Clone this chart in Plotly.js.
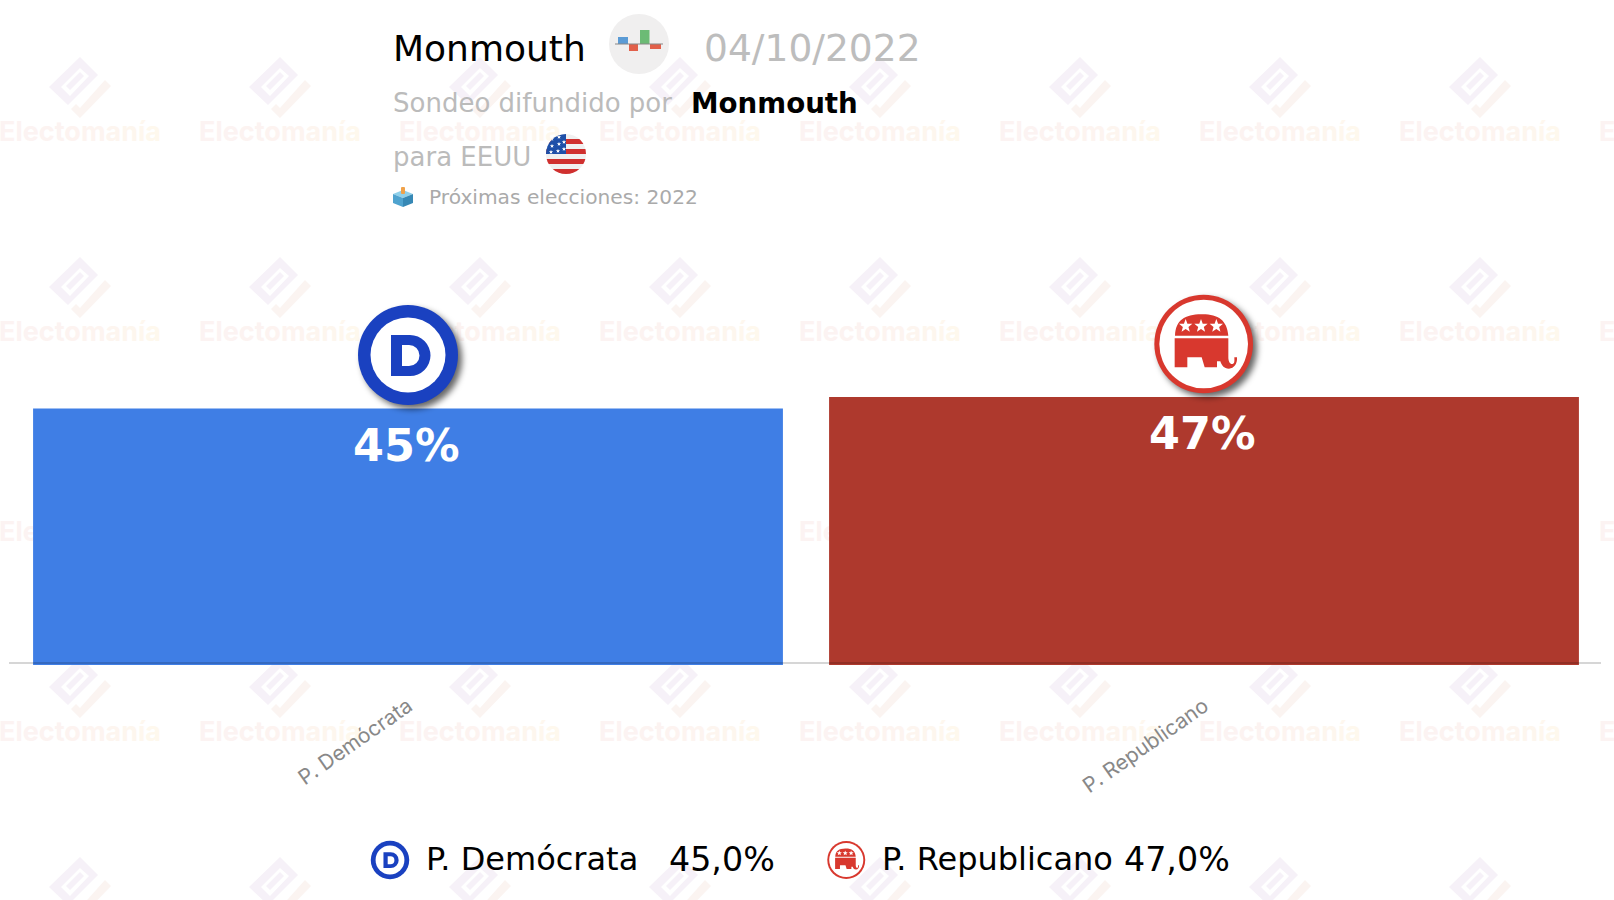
<!DOCTYPE html>
<html><head><meta charset="utf-8">
<script src="https://cdn.plot.ly/plotly-3.0.1.min.js"></script>
<style>html,body{margin:0;padding:0;background:#fff;overflow:hidden}#chart{width:1614px;height:900px}</style>
</head><body><div id="chart"></div>
<script>
const categories = ['P. Demócrata', 'P. Republicano'];
const values = [45, 47];
const legendValues = ['45,0%', '47,0%'];
const barColors = ['#3f7ee5', '#ae392d'];
const pollster = 'Monmouth';
const pollDate = '04/10/2022';
const subtitleText = 'Sondeo difundido por';
const regionText = 'para EEUU';
const nextElection = 'Próximas elecciones: 2022';

const W = 1614, H = 900, L = 10, R = 12, T = 0, B = 235;
const plotW = W - L - R, plotH = H - T - B;
const px = v => (v - L) / plotW;
const py = v => 1 - (v - T) / plotH;
const uri = s => 'data:image/svg+xml;base64,' + btoa(s);

function poly(points, ox, oy) {
  return 'M' + points.map(p => px(p[0] + ox) + ',' + py(p[1] + oy)).join('L') + 'Z';
}
const markOuter = [[80,57],[98,75],[68,105],[49,87]];
const markHole = [[61,87],[80,68],[89,76],[70,96]];
const markBar = [[66,86],[80,72],[84,76],[70,90]];
const markArm = [[105,80],[111,86],[80,118],[71,109],[76,104],[80,108]];
const wmLetters = 'Electomanía'.split('');
const wmColors = ['#fcf3f2','#fcf3f2','#fcf3f2','#fcf3f1','#fcf3f1','#fdf3f0','#fdf4f0','#fdf5ef','#fdf6ee','#fef7ee','#fef8ed'];
const wmText = '<b>' + wmLetters.map((c,i) => `<span style="color:${wmColors[i]}">${c}</span>`).join('') + '</b>';

const shapes = [];
for (let c = 0; c < 9; c++) {
  for (let r = 0; r < 5; r++) {
    const ox = c * 200, oy = r * 200;
    shapes.push({type:'path', layer:'below', xref:'paper', yref:'paper',
      path: poly(markOuter,ox,oy)+poly(markHole,ox,oy)+poly(markBar,ox,oy), fillcolor:'#f6f1f8', line:{width:0}});
    shapes.push({type:'path', layer:'below', xref:'paper', yref:'paper',
      path: poly(markArm,ox,oy), fillcolor:'#fbf4f1', line:{width:0}});
    if (r < 4) shapes.push({type:'rect', layer:'below', xref:'paper', yref:'paper',
      x0:px(ox-1), x1:px(ox+161), y0:py(oy+145), y1:py(oy+115),
      fillcolor:'rgba(0,0,0,0)', line:{width:0},
      label:{text:wmText, textposition:'middle center', font:{family:'Inter', size:27, color:'#fcf3f1'}}});
  }
}
// baseline over the bars
shapes.push({type:'line', layer:'above', xref:'paper', yref:'paper', x0:px(9), x1:px(1601), y0:py(663), y1:py(663),
  line:{color:'rgba(0,0,0,0.16)', width:2}});

const shadow = '<filter id="s" x="-30%" y="-30%" width="160%" height="160%"><feGaussianBlur stdDeviation="3"/></filter>';
function dIcon(sh) {
  return uri(`<svg xmlns="http://www.w3.org/2000/svg" width="130" height="130" viewBox="0 0 130 130">${sh?shadow+'<circle cx="69" cy="69" r="50" fill="#000" fill-opacity="0.6" filter="url(#s)"/>':''}
  <circle cx="65" cy="65" r="50" fill="#1a41c0"/><circle cx="65" cy="65" r="37.5" fill="#fff"/>
  <path fill="#1a41c0" fill-rule="evenodd" d="M48 45H67A20.5 20.5 0 0 1 67 86H48ZM59 55H66A10.5 10.5 0 0 1 66 76H59Z"/></svg>`);
}
function star(cx, cy, r) {
  let d = '';
  for (let i = 0; i < 10; i++) {
    const a = -Math.PI/2 + i*Math.PI/5, q = i%2 ? r*0.42 : r;
    d += (i?'L':'M') + (cx+q*Math.cos(a)).toFixed(1) + ' ' + (cy+q*Math.sin(a)).toFixed(1);
  }
  return d + 'Z';
}
function rIcon(sh) {
  return uri(`<svg xmlns="http://www.w3.org/2000/svg" width="130" height="130" viewBox="115 27 390 390">${sh?shadow.replace('stdDeviation="3"','stdDeviation="9"')+'<circle cx="324" cy="234" r="148" fill="#000" fill-opacity="0.6" filter="url(#s)"/>':''}
  <circle cx="312" cy="222" r="148" fill="#d8382e"/><circle cx="312" cy="222" r="133" fill="#fff"/>
  <path fill="#d8382e" d="M226 197C228 150 255 134 305 133C355 132 382 150 386 197Z"/>
  <path fill="#d8382e" d="M225 205H386V262C386 276 392 284 399 282C406 280 404 270 404 262L412 262C414 280 403 296 388 296C372 296 366 286 362 274H352V292H315L306 262H263V292H225Z"/>
  <path fill="#fff" d="${star(258,168,21)}${star(304,168,21)}${star(350,168,21)}"/></svg>`);
}
const flag = uri(`<svg xmlns="http://www.w3.org/2000/svg" width="40" height="40" viewBox="0 0 40 40"><defs><clipPath id="c"><circle cx="20" cy="20" r="20"/></clipPath></defs>
<g clip-path="url(#c)"><rect width="40" height="40" fill="#f0f0f0"/>
<rect y="5" width="40" height="5" fill="#d0302f"/><rect y="15" width="40" height="5" fill="#d0302f"/><rect y="25" width="40" height="5" fill="#d0302f"/><rect y="35" width="40" height="5" fill="#d0302f"/>
<rect width="20" height="20" fill="#1e4fa8"/>
<path fill="#fff" d="${star(6,5,2.2)}${star(13,3,2.2)}${star(18,8,2.2)}${star(6,12,2.2)}${star(13,10,2.2)}${star(5,18,2.2)}${star(12,17,2.2)}${star(18,15,2.2)}"/></g></svg>`);
const barsIcon = uri(`<svg xmlns="http://www.w3.org/2000/svg" width="60" height="60" viewBox="0 0 60 60"><circle cx="30" cy="30" r="30" fill="#f0efef"/>
<rect x="9" y="23" width="10" height="7" fill="#5b9bd5"/><rect x="20" y="30" width="9" height="7" fill="#e2604a"/><rect x="31" y="16" width="9.5" height="14" fill="#6cbb75"/><rect x="41" y="30" width="11" height="5" fill="#e2604a"/>
<rect x="6" y="29.5" width="48" height="1" fill="#888"/></svg>`);
const ballot = uri(`<svg xmlns="http://www.w3.org/2000/svg" width="20" height="20" viewBox="0 0 20 20">
<path fill="#8fd0ea" d="M10 3L20 7L10 11L0 7Z"/><path fill="#4fa3cf" d="M0 7L10 11V20L0 16Z"/><path fill="#3688b5" d="M20 7L10 11V20L20 16Z"/><rect x="8" y="0" width="4" height="7" rx="1" fill="#f0a24a"/></svg>`);

function img(src, x, y, size) {
  return {source:src, xref:'paper', yref:'paper', x:px(x), y:py(y), sizex:size/plotW, sizey:size/plotH,
    xanchor:'left', yanchor:'top', sizing:'stretch', layer:'above'};
}
const images = [
  img(barsIcon, 609, 14, 60), img(flag, 546, 134, 40), img(ballot, 393, 187, 20),
  img(dIcon(true), 343, 290, 130), img(rIcon(true), 1138, 279, 130),
  img(dIcon(false), 365, 835, 50), img(rIcon(false), 821, 835, 50)
];

function label(text, x, y, size, color, extra) {
  return Object.assign({xref:'paper', yref:'paper', x:px(x), y:py(y), text:text, showarrow:false,
    xanchor:'left', yanchor:'middle', align:'left',
    font:{family:'DejaVu Sans', size:size, color:color}}, extra||{});
}
const annotations = [
  label(pollster, 391, 48, 36, '#000'),
  label(pollDate, 702, 48, 37.6, '#bdbdbd'),
  label(subtitleText, 391, 103, 26, '#bbb'),
  label('<b>'+pollster+'</b>', 689, 104, 27.7, '#000'),
  label(regionText, 391, 157, 26, '#bbb'),
  label(nextElection, 427, 197, 20.2, '#aaa'),
  label(categories[0], 424, 859, 32, '#000'),
  label(legendValues[0], 667, 859, 33.3, '#000'),
  label(categories[1], 880, 859, 32, '#000'),
  label(legendValues[1], 1122, 859, 33.3, '#000')
];
categories.forEach((c,i) => annotations.push({x:c, y:values[i], xref:'x', yref:'y', text:'<b>'+values[i]+'%</b>',
  showarrow:false, xanchor:'center', yanchor:'top', xshift:-2, yshift:-9, font:{family:'DejaVu Sans', size:44.5, color:'#fff'}}));

Plotly.newPlot('chart', [{type:'bar', x:categories, y:values, marker:{color:barColors, line:{width:0}}, hoverinfo:'skip'}], {
  width:W, height:H, margin:{l:L, r:R, t:T, b:B, pad:0}, showlegend:false, bargap:0.058,
  paper_bgcolor:'rgba(0,0,0,0)', plot_bgcolor:'rgba(0,0,0,0)',
  xaxis:{type:'category', showline:false, showgrid:false, zeroline:false, ticks:'', tickangle:-35, ticklabelstandoff:24,
    tickfont:{family:'Inter', size:21, color:'#888'}, automargin:false},
  yaxis:{range:[0,665/5.7], visible:false, fixedrange:true},
  shapes, images, annotations
}, {displayModeBar:false, staticPlot:true});
</script></body></html>
